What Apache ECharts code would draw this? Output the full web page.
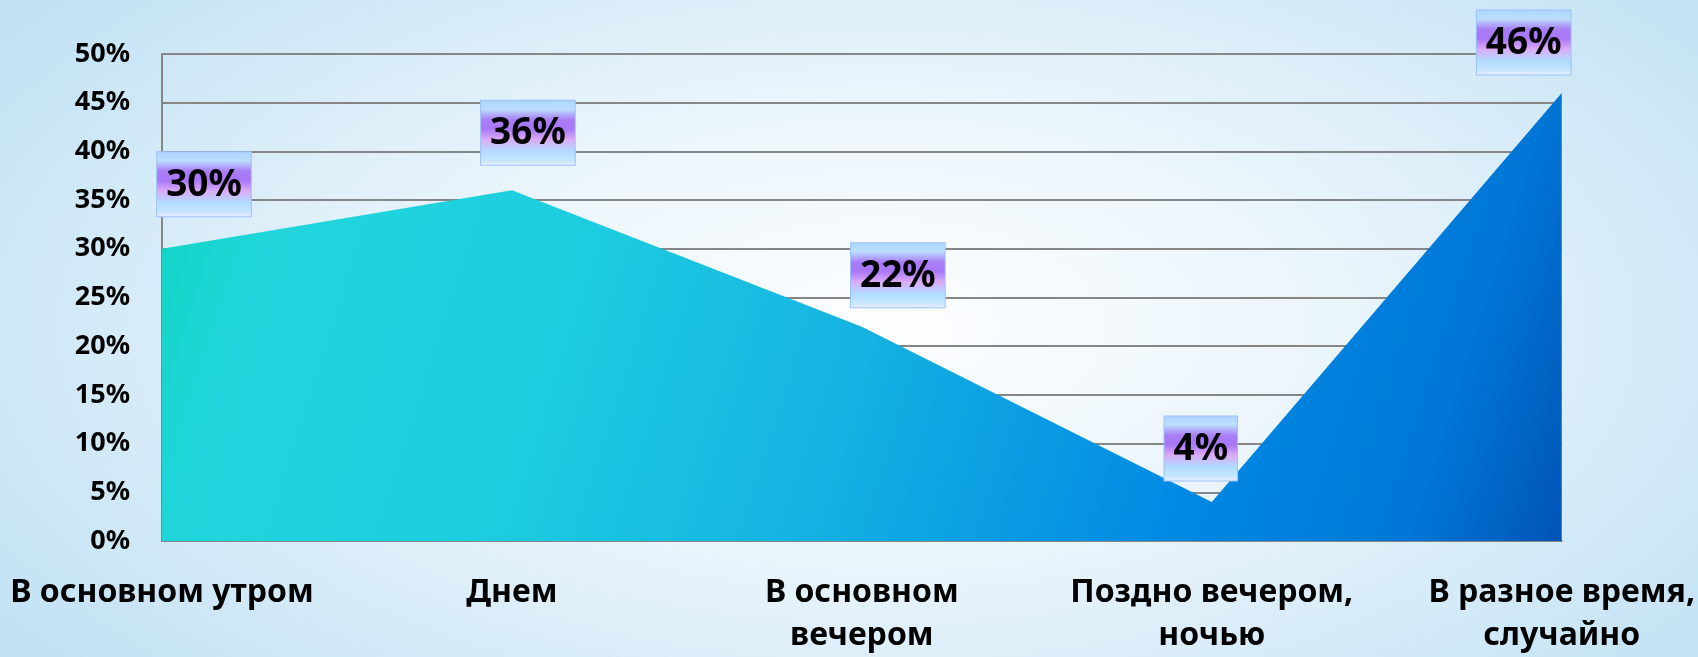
<!DOCTYPE html>
<html>
<head>
<meta charset="utf-8">
<script src="https://cdn.jsdelivr.net/npm/echarts@6/dist/echarts.min.js"></script>
<style>
  html, body { margin: 0; padding: 0; }
  body {
    width: 1698px; height: 657px; overflow: hidden;
    background: radial-gradient(ellipse 62% 80% at 52% 50%, #fdfeff 0%, #e9f4fb 45%, #c2e2f4 100%);
  }
  #chart { width: 1698px; height: 657px; }
</style>
</head>
<body>
<div id="chart"></div>
<script>
// categories and values
const categories = [
  'В основном утром',
  'Днем',
  'В основном\nвечером',
  'Поздно вечером,\nночью',
  'В разное время,\nслучайно'
]
const values = [30, 36, 22, 4, 46]
const yTicks = { min: 0, max: 50, interval: 5 }

// hand-placed label boxes in the original
const labelOffsets = [[42, -27], [16, -20], [36, -14], [-11, -16], [-38, -13]]

const font = '"Noto Sans", "Open Sans", sans-serif'

const chart = echarts.init(document.getElementById('chart'), null, { renderer: 'canvas' })

const labelBg = new echarts.graphic.LinearGradient(0, 0, 0, 1, [
  { offset: 0, color: '#acd4ff' },
  { offset: 0.14, color: '#bcdfff' },
  { offset: 0.3, color: '#a97ef7' },
  { offset: 0.44, color: '#a877f6' },
  { offset: 0.6, color: '#dcaaf8' },
  { offset: 0.78, color: '#b0dcff' },
  { offset: 0.92, color: '#c6e6ff' },
  { offset: 1, color: '#f2eeff' }
])

const areaFill = new echarts.graphic.LinearGradient(0, 0, 1, 1, [
  { offset: 0, color: '#0ed3bc' },
  { offset: 0.1, color: '#20d6dc' },
  { offset: 0.3, color: '#1dcde0' },
  { offset: 0.5, color: '#15b3e2' },
  { offset: 0.75, color: '#0088e3' },
  { offset: 0.9, color: '#0076d6' },
  { offset: 1, color: '#0054b6' }
])

const option = {
  animation: false,
  backgroundColor: 'transparent',
  grid: { left: 162, right: 136, top: 54, bottom: 110, containLabel: false },
  xAxis: {
    type: 'category',
    data: categories,
    boundaryGap: false,
    axisLine: { show: true, lineStyle: { color: '#868686', width: 2 } },
    axisTick: { show: false },
    splitLine: { show: false },
    axisLabel: {
      interval: 0,
      margin: 30,
      color: '#000',
      fontFamily: font,
      fontWeight: 'bold',
      fontSize: 32,
      lineHeight: 43
    }
  },
  yAxis: {
    type: 'value',
    min: yTicks.min,
    max: yTicks.max,
    interval: yTicks.interval,
    axisLine: { show: true, lineStyle: { color: '#868686', width: 2 } },
    axisTick: { show: false },
    splitLine: { show: true, lineStyle: { color: '#868686', width: 2 } },
    axisLabel: {
      formatter: '{value}%',
      margin: 32,
      color: '#000',
      fontFamily: font,
      fontWeight: 'bold',
      fontSize: 27
    }
  },
  series: [{
    type: 'line',
    data: values.map((v, i) => ({ value: v, label: { offset: labelOffsets[i] } })),
    symbol: 'circle',
    symbolSize: 1,
    itemStyle: { color: 'transparent', borderWidth: 0 },
    lineStyle: { width: 0, color: 'transparent' },
    areaStyle: { color: areaFill, opacity: 1 },
    emphasis: { disabled: true },
    label: {
      show: true,
      position: 'top',
      distance: 5,
      formatter: '{c}%',
      color: '#000',
      fontFamily: font,
      fontWeight: 'bold',
      fontSize: 37,
      lineHeight: 44,
      padding: [11, 9, 9, 9],
      backgroundColor: labelBg,
      borderColor: '#9cc2fb',
      borderWidth: 1
    },
    z: 3
  }]
}

chart.setOption(option)
window.addEventListener('resize', chart.resize)
</script>
</body>
</html>
